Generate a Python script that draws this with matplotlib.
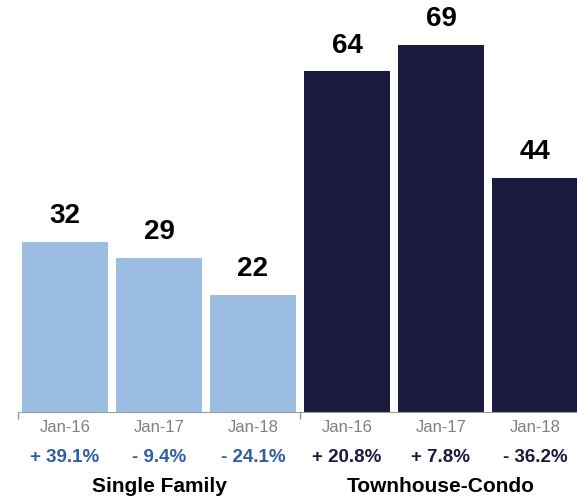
import matplotlib
matplotlib.use("Agg")
import matplotlib.pyplot as plt

periods = ["Jan-16", "Jan-17", "Jan-18", "Jan-16", "Jan-17", "Jan-18"]
values = [32, 29, 22, 64, 69, 44]
changes = ["+ 39.1%", "- 9.4%", "- 24.1%", "+ 20.8%", "+ 7.8%", "- 36.2%"]
groups = ["Single Family", "Townhouse-Condo"]

light = "#9dbee3"
navy = "#1a1a3f"
bar_colors = [light] * 3 + [navy] * 3
pct_colors = ["#2f5f9e"] * 3 + [navy] * 3

plt.rcParams['font.family'] = ['Liberation Sans', 'DejaVu Sans']

fig = plt.figure(figsize=(5.77, 5.00), dpi=100)
ax = fig.add_axes([18 / 577, 88 / 500, 559 / 577, 412 / 500])

x = list(range(len(values)))
ax.bar(x, values, width=0.915, color=bar_colors)
ax.set_xlim(-0.5, 5.447)
ax.set_ylim(0, 77.4)

for xi, v in zip(x, values):
    ax.annotate(str(v), (xi, v), xytext=(0, 9), textcoords="offset points",
                ha="center", va="bottom", fontsize=20, fontweight="bold", color="black")

for s in ["top", "right", "left"]:
    ax.spines[s].set_visible(False)
ax.spines["bottom"].set_color("#9a9a9a")
ax.set_yticks([])
ax.set_xticks([-0.5, 2.5])
ax.set_xticklabels([])
ax.tick_params(axis="x", length=5, color="#9a9a9a", width=1)

for xi, p, c, pc in zip(x, periods, changes, pct_colors):
    ax.annotate(p, (xi, 0), xytext=(0, -11), textcoords="offset points",
                ha="center", va="center", fontsize=12, color="#808080",
                annotation_clip=False)
    ax.annotate(c, (xi, 0), xytext=(0, -33), textcoords="offset points",
                ha="center", va="center", fontsize=13.5, fontweight="bold", color=pc,
                annotation_clip=False)

for gi, g in enumerate(groups):
    ax.annotate(g, (1 + 3 * gi, 0), xytext=(0, -54), textcoords="offset points",
                ha="center", va="center", fontsize=15, fontweight="bold", color="black",
                annotation_clip=False)

fig.savefig("out.png", dpi=100)
